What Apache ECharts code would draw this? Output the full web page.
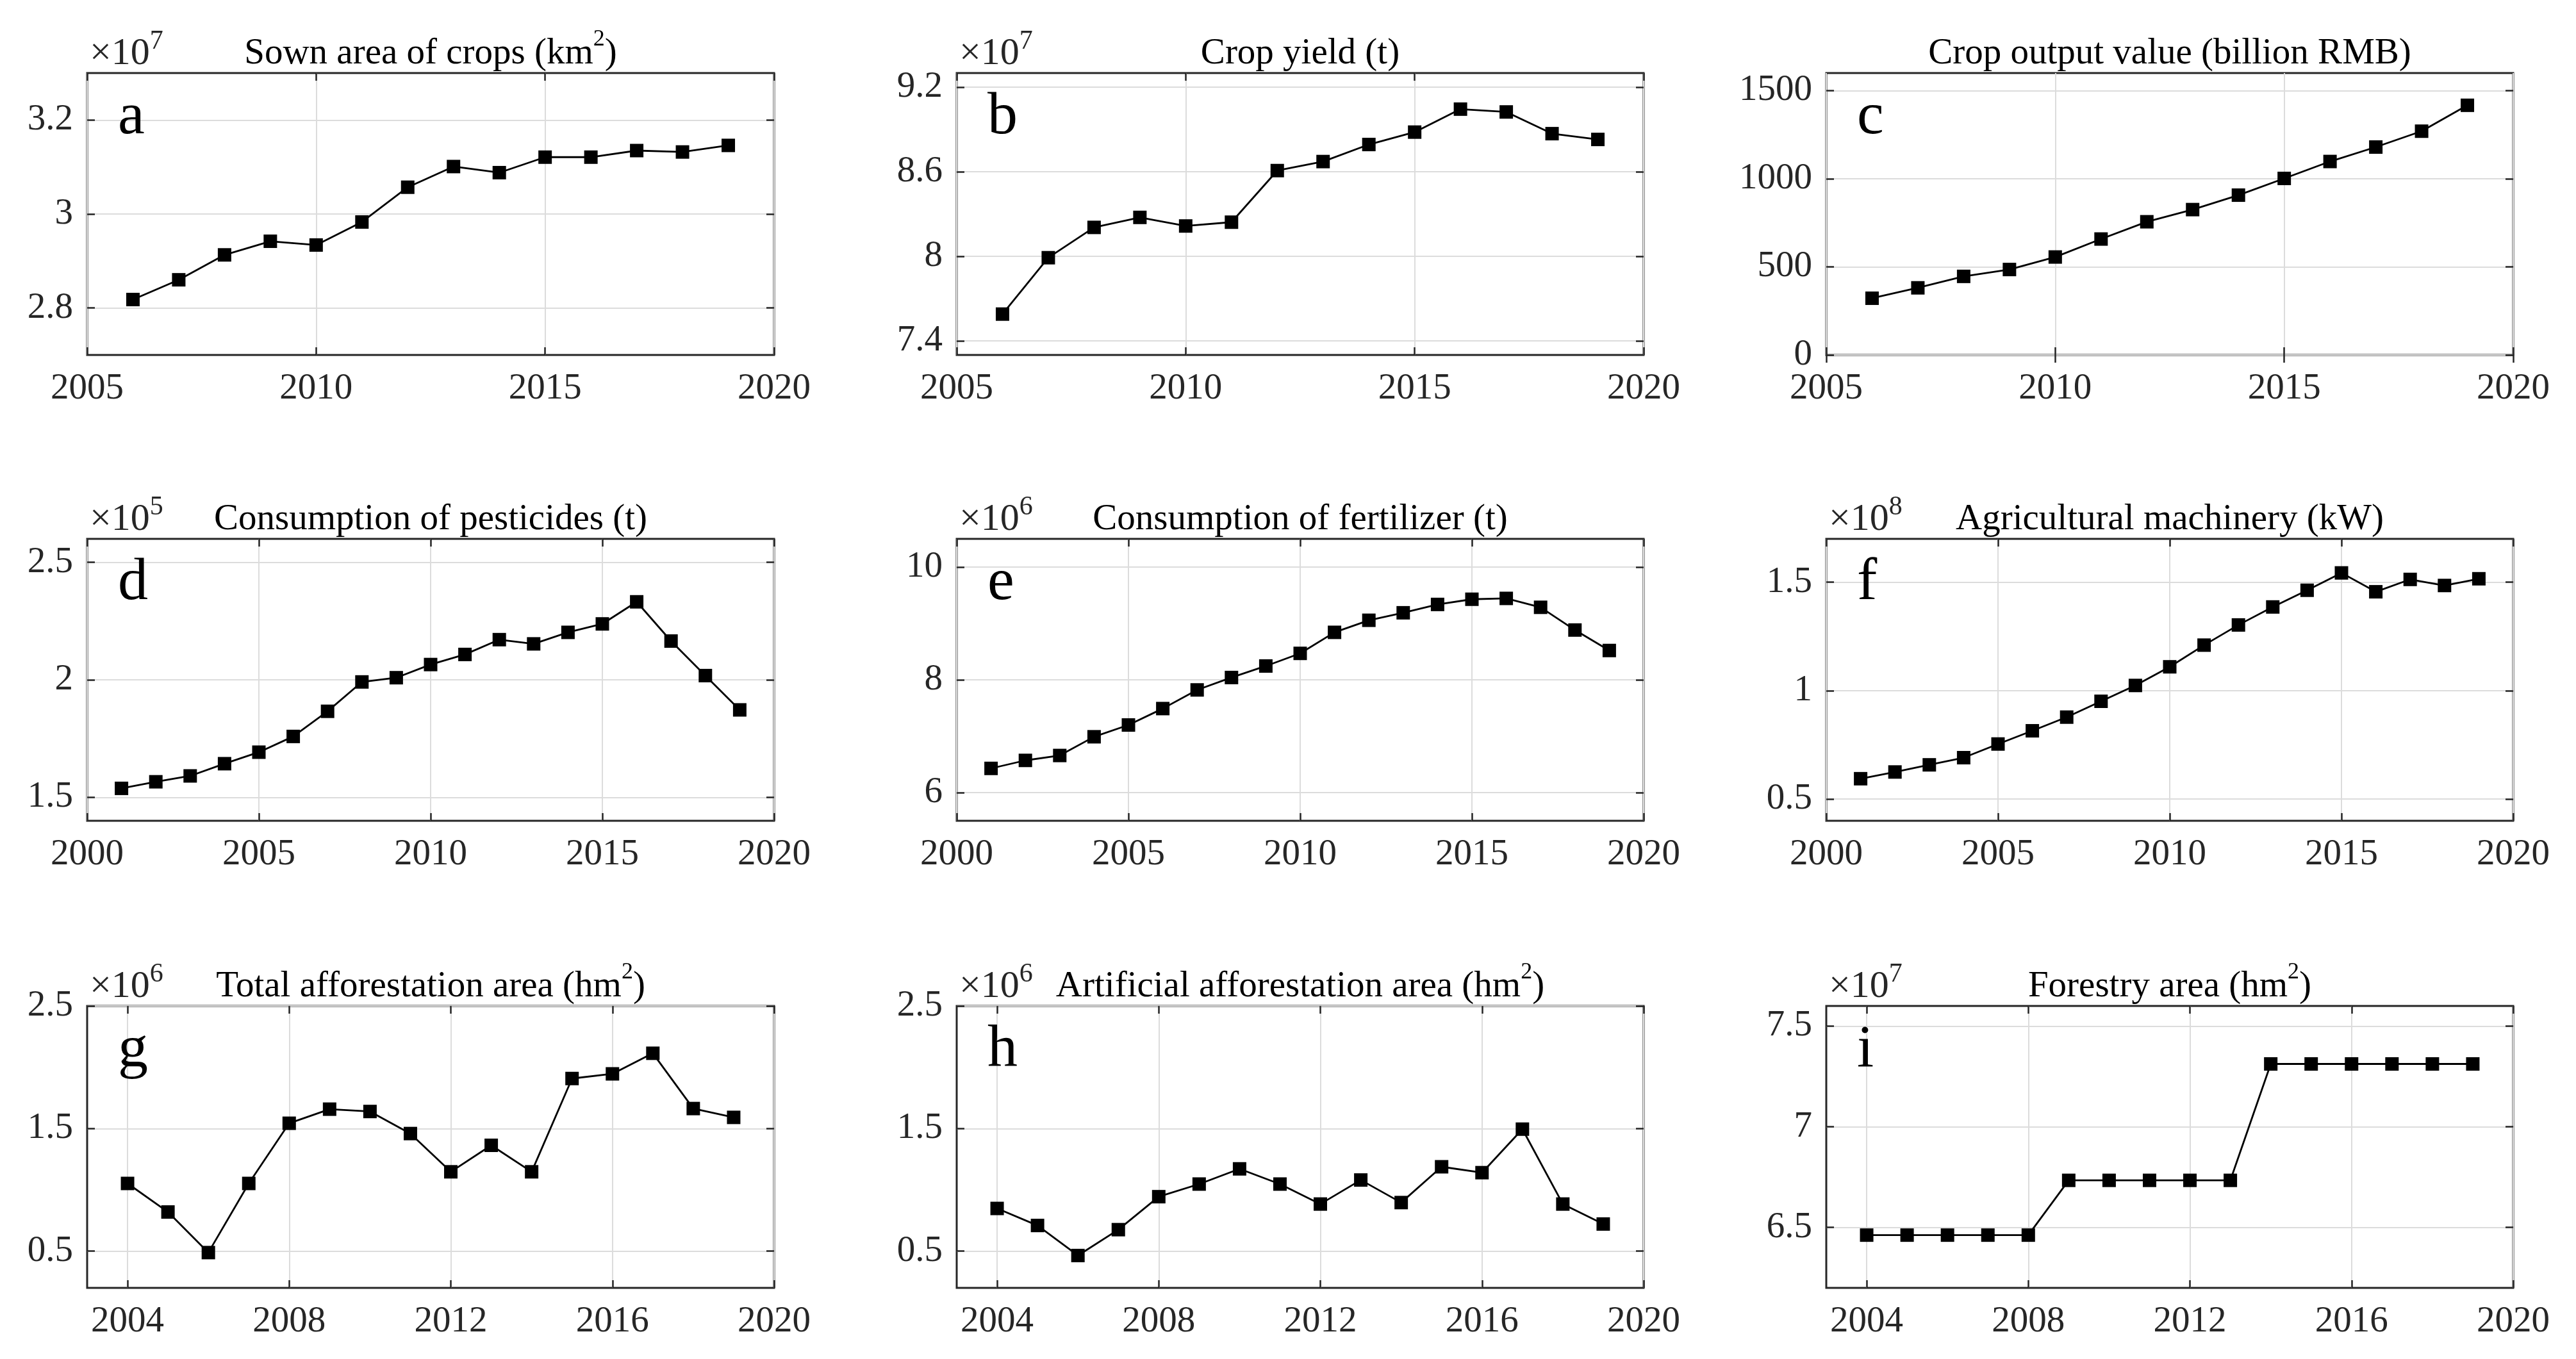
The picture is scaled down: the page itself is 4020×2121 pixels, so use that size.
<!DOCTYPE html>
<html><head><meta charset="utf-8">
<script src="https://cdn.jsdelivr.net/npm/echarts@6/dist/echarts.min.js"></script>
<style>html,body{margin:0;padding:0;background:#fff}#c{width:4020px;height:2121px}</style>
</head><body><div id="c"></div>
<script>
// ---------------- data (values in the units shown on each axis) ----------------
const yearsA = [2006,2007,2008,2009,2010,2011,2012,2013,2014,2015,2016,2017,2018,2019];
const yearsD = [2001,2002,2003,2004,2005,2006,2007,2008,2009,2010,2011,2012,2013,2014,2015,2016,2017,2018,2019];
const yearsG = [2004,2005,2006,2007,2008,2009,2010,2011,2012,2013,2014,2015,2016,2017,2018,2019];

const sownArea = [2.818,2.860,2.913,2.942,2.934,2.983,3.057,3.101,3.088,3.121,3.121,3.135,3.132,3.146];      // x10^7 km2
const cropYield = [7.590,7.990,8.205,8.276,8.215,8.242,8.608,8.672,8.793,8.881,9.044,9.024,8.870,8.829];     // x10^7 t
const cropOutput = [322,381,446,485,556,658,756,825,907,1002,1098,1180,1270,1417];                          // billion RMB
const pesticides = [1.538,1.566,1.591,1.643,1.692,1.759,1.866,1.991,2.009,2.065,2.108,2.171,2.153,2.202,2.238,2.332,2.165,2.018,1.872]; // x10^5 t
const fertilizer = [6.429,6.571,6.658,6.990,7.199,7.490,7.821,8.041,8.245,8.469,8.842,9.056,9.189,9.337,9.429,9.444,9.286,8.883,8.520]; // x10^6 t
const machinery = [0.594,0.625,0.658,0.691,0.754,0.815,0.878,0.951,1.024,1.110,1.210,1.303,1.386,1.463,1.543,1.456,1.513,1.485,1.516];  // x10^8 kW
const totalAfforest = [1.052,0.819,0.488,1.052,1.543,1.658,1.639,1.459,1.147,1.363,1.147,1.908,1.946,2.114,1.663,1.591];      // x10^6 hm2
const artificialAfforest = [0.848,0.709,0.464,0.675,0.944,1.047,1.171,1.047,0.884,1.080,0.896,1.188,1.140,1.495,0.884,0.721]; // x10^6 hm2
const forestryArea = [6.462,6.462,6.462,6.462,6.462,6.734,6.734,6.734,6.734,6.734,7.312,7.312,7.312,7.312,7.312,7.312];        // x10^7 hm2

const xTicksA = [2005,2010,2015,2020];
const xTicksD = [2000,2005,2010,2015,2020];
const xTicksG = [2004,2008,2012,2016,2020];

const yTicksA = [2.8,3,3.2];
const yTicksB = [7.4,8,8.6,9.2];
const yTicksC = [0,500,1000,1500];
const yTicksD = [1.5,2,2.5];
const yTicksE = [6,8,10];
const yTicksF = [0.5,1,1.5];
const yTicksG = [0.5,1.5,2.5];
const yTicksH = [0.5,1.5,2.5];
const yTicksI = [6.5,7,7.5];

const panelLetters = ['a','b','c','d','e','f','g','h','i'];
const panelTitles = [
  'Sown area of crops (km{sup|2})',
  'Crop yield (t)',
  'Crop output value (billion RMB)',
  'Consumption of pesticides (t)',
  'Consumption of fertilizer (t)',
  'Agricultural machinery (kW)',
  'Total afforestation area (hm{sup|2})',
  'Artificial afforestation area (hm{sup|2})',
  'Forestry area (hm{sup|2})'
];
const panelExponents = ['7','7','','5','6','8','6','6','7'];

const panels = [
  {years: yearsA, values: sownArea,   xMin:2005, xMax:2020, xTicks:xTicksA, yMin:2.7, yMax:3.3, yTicks:yTicksA},
  {years: yearsA, values: cropYield,  xMin:2005, xMax:2020, xTicks:xTicksA, yMin:7.3, yMax:9.3, yTicks:yTicksB},
  {years: yearsA, values: cropOutput, xMin:2005, xMax:2020, xTicks:xTicksA, yMin:0,   yMax:1600, yTicks:yTicksC},
  {years: yearsD, values: pesticides, xMin:2000, xMax:2020, xTicks:xTicksD, yMin:1.4, yMax:2.6, yTicks:yTicksD},
  {years: yearsD, values: fertilizer, xMin:2000, xMax:2020, xTicks:xTicksD, yMin:5.5, yMax:10.5, yTicks:yTicksE},
  {years: yearsD, values: machinery,  xMin:2000, xMax:2020, xTicks:xTicksD, yMin:0.4, yMax:1.7, yTicks:yTicksF},
  {years: yearsG, values: totalAfforest,      xMin:2003, xMax:2020, xTicks:xTicksG, yMin:0.2, yMax:2.5, yTicks:yTicksG},
  {years: yearsG, values: artificialAfforest, xMin:2003, xMax:2020, xTicks:xTicksG, yMin:0.2, yMax:2.5, yTicks:yTicksH},
  {years: yearsG, values: forestryArea,       xMin:2003, xMax:2020, xTicks:xTicksG, yMin:6.2, yMax:7.6, yTicks:yTicksI}
];

// ---------------- layout ----------------
const FONT = "'Liberation Serif','Times New Roman',serif";
const colLeft = [136, 1493, 2850];
const rowTop = [114, 841, 1570];
const W = 1072, H = 440;
const AX = '#262626';
const FS = 57;
const fmt = v => String(+(+v).toFixed(6));
const supStyle = {fontFamily: FONT, fontSize: 36, lineHeight: 36, padding: [0,0,44,0], verticalAlign: 'top', color: '#000'};

const grid = [], xAxis = [], yAxis = [], series = [], title = [];
panels.forEach((p, i) => {
  const L = colLeft[i % 3], T = rowTop[Math.floor(i / 3)];
  grid.push({left: L, top: T, width: W, height: H, show: true, borderColor: AX, borderWidth: 3,
             backgroundColor: '#fff', containLabel: false, outerBoundsMode: 'none'});
  const tick = (vals) => ({show: true, inside: true, length: 12, lineStyle: {color: AX, width: 2.5}, customValues: vals});
  xAxis.push({gridIndex: i, type: 'value', min: p.xMin, max: p.xMax, position: 'bottom',
    axisLine: {show: false}, axisTick: tick(p.xTicks),
    axisLabel: {customValues: p.xTicks, margin: 25, color: AX, fontFamily: FONT, fontSize: FS, formatter: fmt},
    splitLine: {show: true, lineStyle: {color: '#dcdcdc', width: 2}}});
  xAxis.push({gridIndex: i, type: 'value', min: p.xMin, max: p.xMax, position: 'top',
    axisLine: {show: false}, axisTick: tick(p.xTicks), axisLabel: {show: false}, splitLine: {show: false}});
  yAxis.push({gridIndex: i, type: 'value', min: p.yMin, max: p.yMax, position: 'left',
    axisLine: {show: false}, axisTick: tick(p.yTicks),
    axisLabel: {customValues: p.yTicks, margin: 22, color: AX, fontFamily: FONT, fontSize: FS, formatter: fmt, padding: [10,0,0,0]},
    splitLine: {show: true, lineStyle: {color: '#dcdcdc', width: 2}}});
  yAxis.push({gridIndex: i, type: 'value', min: p.yMin, max: p.yMax, position: 'right',
    axisLine: {show: false}, axisTick: tick(p.yTicks), axisLabel: {show: false}, splitLine: {show: false}});
  series.push({type: 'line', xAxisIndex: 2 * i, yAxisIndex: 2 * i,
    data: p.years.map((y, k) => [y, p.values[k]]),
    symbol: 'rect', symbolSize: 21, showSymbol: true,
    lineStyle: {color: '#000', width: 2.8}, itemStyle: {color: '#000'}, z: 5});
  // title
  title.push({text: panelTitles[i], left: L + W / 2, top: T - 70, textAlign: 'center', textVerticalAlign: 'top', padding: 0,
    textStyle: {fontFamily: FONT, fontSize: FS, fontWeight: 'normal', color: '#000', lineHeight: 80, rich: {sup: supStyle}}});
  // exponent multiplier
  if (panelExponents[i]) {
    title.push({text: '\u00d710{sup|' + panelExponents[i] + '}', left: L + 4, top: T - 70, textAlign: 'left', textVerticalAlign: 'top', padding: 0,
      textStyle: {fontFamily: FONT, fontSize: 60, fontWeight: 'normal', color: AX, lineHeight: 80,
        rich: {sup: Object.assign({}, supStyle, {fontSize: 42, lineHeight: 42, padding: [0,0,38,0], color: AX})}}});
  }
  // panel letter
  title.push({text: panelLetters[i], left: L + 48, top: T + 22, textAlign: 'left', textVerticalAlign: 'top', padding: 0,
    textStyle: {fontFamily: FONT, fontSize: 94, fontWeight: 'normal', color: '#000', lineHeight: 94}});
});

const chart = echarts.init(document.getElementById('c'), null, {renderer: 'canvas'});
chart.setOption({animation: false, backgroundColor: '#fff', title, grid, xAxis, yAxis, series});
</script></body></html>
